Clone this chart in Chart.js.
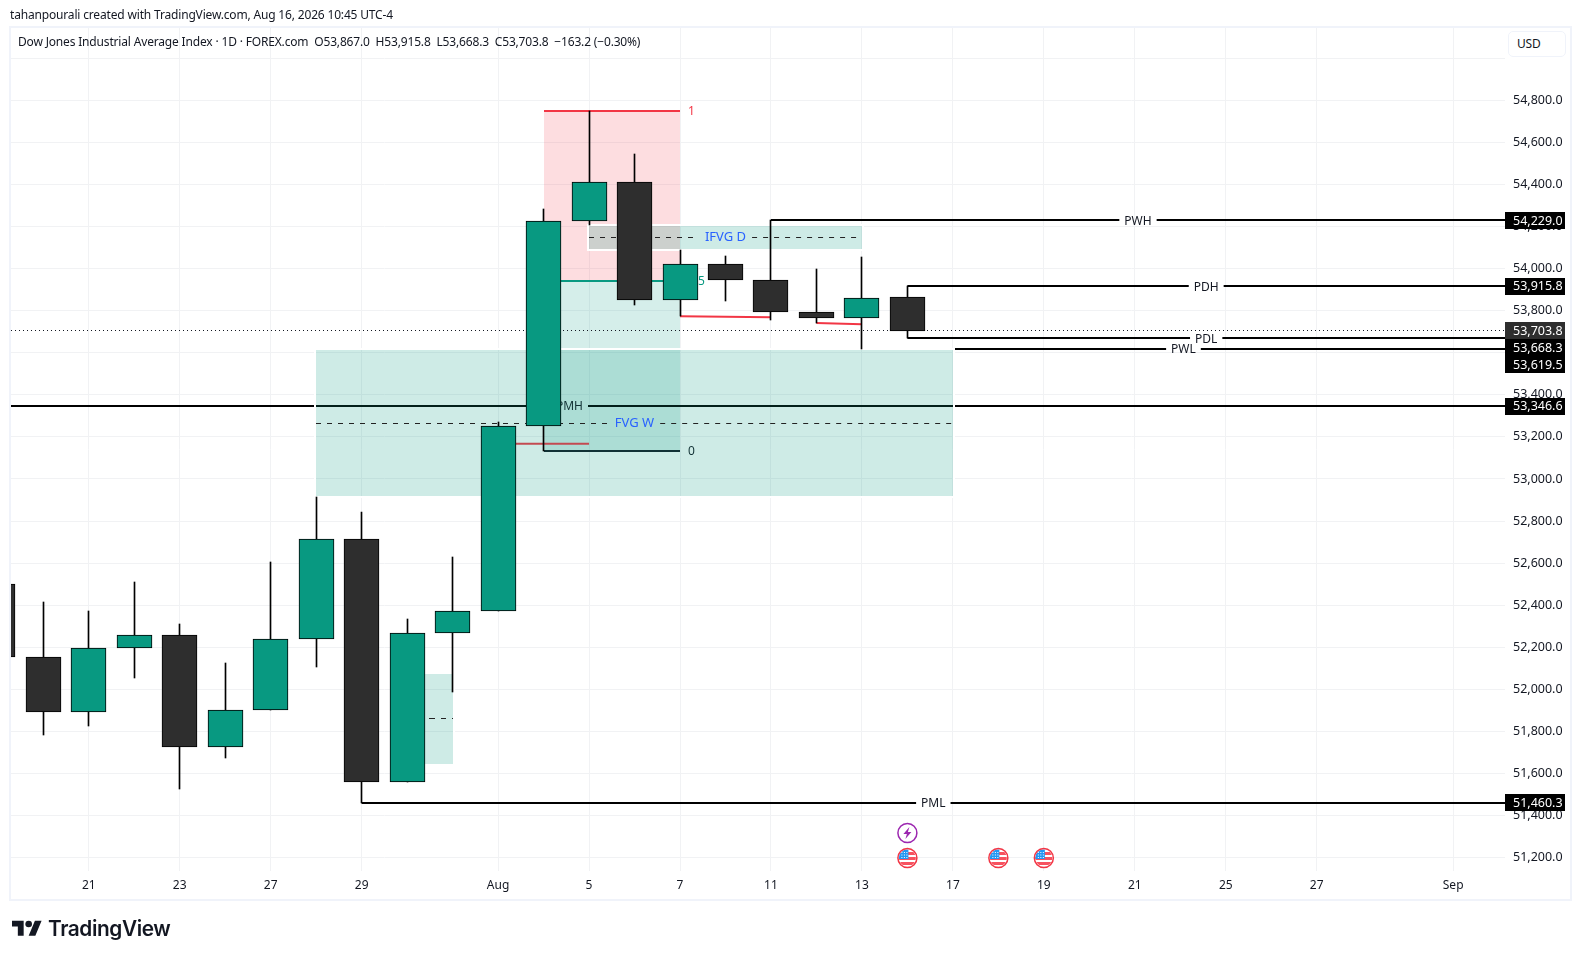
<!DOCTYPE html>
<html>
<head>
<meta charset="utf-8">
<title>Dow Jones Industrial Average Index</title>
<script src="https://cdn.jsdelivr.net/npm/chart.js@4"></script>
<style>
  html, body { margin: 0; background: #fff; width: 1580px; height: 959px; overflow: hidden; }
  body { font-family: 'Noto Sans', sans-serif; color: #131722; }
  #frame { position: absolute; left: 9px; top: 26px; width: 1559px; height: 871px; border: 2px solid #f0f3fa; }
  #chart { position: absolute; left: 0; top: 0; }
  .txt { position: absolute; white-space: pre; font-size: 12px; line-height: 16px; letter-spacing: -0.17px; }
  #credit { left: 10px; top: 7px; }
  #legend { left: 18px; top: 34px; }
  #usd { left: 1508px; top: 31px; width: 58px; height: 26px; box-sizing: border-box; padding-left: 8px; border: 1px solid #f0f3fa; border-radius: 5px; background: #fff; line-height: 24px; }
  #logo { position: absolute; left: 12px; top: 917px; }
  #logoName { position: absolute; left: 48px; top: 914px; font: 600 20.8px/30px Inter, sans-serif; color: #131722; letter-spacing: -0.4px; }
</style>
</head>
<body>
<div id="frame"></div>
<canvas id="chart" width="1580" height="959"></canvas>
<div class="txt" id="credit">tahanpourali created with TradingView.com, Aug 16, 2026 10:45 UTC-4</div>
<div class="txt" id="legend">Dow Jones Industrial Average Index · 1D · FOREX.com  O53,867.0  H53,915.8  L53,668.3  C53,703.8  −163.2 (−0.30%)</div>
<div class="txt" id="usd">USD</div>
<svg id="logo" width="30" height="24" viewBox="0 0 36 28"><path fill="#131722" d="M14 22H7V11H0V4h14v18zM28 22h-8l7.5-18h8L28 22z"/><circle fill="#131722" cx="20" cy="8" r="4"/></svg>
<div id="logoName">TradingView</div>
<script>
// candles, x is the bar number on the time axis
const bars   = [-1, 0, 1, 2, 3, 4, 5, 6, 7, 8, 9, 10, 11, 12, 13, 14, 15, 16, 17, 18, 19];
const opens  = [52499, 52155, 51891, 52197, 52259, 51727, 51903, 52240, 52716, 51560, 52269, 52370, 53250, 54228, 54413, 53850, 54023, 53948, 53795, 53765, 53867];
const highs  = [52499, 52413, 52370, 52508, 52308, 52123, 52603, 52912, 52841, 52332, 52630, 53270, 54282, 54748, 54543, 54087, 54058, 54229, 53996, 54053, 53915.8];
const lows   = [52153, 51782, 51825, 52053, 51528, 51673, 51903, 52105, 51460.3, 51560, 51987, 52370, 53131, 54205, 53827, 53773, 53846, 53754, 53741, 53619.5, 53668.3];
const closes = [52153, 51891, 52197, 52259, 51727, 51903, 52240, 52716, 51560, 52269, 52373, 53250, 54228, 54413, 53850, 54023, 53946, 53795, 53765, 53862, 53703.8];

const timeTicks  = [1, 3, 5, 7, 10, 12, 14, 16, 18, 20, 22, 24, 26, 28, 31];
const timeLabels = ['21', '23', '27', '29', 'Aug', '5', '7', '11', '13', '17', '19', '21', '25', '27', 'Sep'];
const priceTicks = [55000, 54800, 54600, 54400, 54200, 54000, 53800, 53600, 53400, 53200, 53000, 52800, 52600, 52400, 52200, 52000, 51800, 51600, 51400, 51200];

// labelled horizontal levels
const levelNames  = ['PWH', 'PDH', 'PDL', 'PWL', 'PMH', 'PML'];
const levelPrices = [54229, 53915.8, 53668.3, 53619.5, 53346.6, 51460.3];
const levelStarts = [16, 19, 19, 18, -9, 7];

const lastPrice = 53703.8;

// fib tool
const fibFrom = 11, fibTo = 14;
const fibNames  = ['1', '0.5', '0'];
const fibPrices = [54748, 53939, 53131];

// fair value gaps
const gapNames  = ['FVG W', 'IFVG D', ''];
const gapFrom   = [6, 12, 8];
const gapTo     = [20, 18, 9];
const gapTops   = [53615, 54201, 52075];
const gapBottoms = [52919, 54091, 51647];
const gapMiddles = [53263, 54147, 51861];

// red sweep lines
const sweepFrom   = [10, 14, 17];
const sweepTo     = [12, 16, 18];
const sweepStart  = [53167, 53773, 53741];
const sweepEnd    = [53167, 53769, 53735];

const flagBars = [19, 21, 22];
const boltBars = [19];

const GREEN = '#089981', DARK = '#2e2e2e', RED = '#f23645', BLUE = '#2962ff', INK = '#131722';
const GRID = '#f1f2f4';
const FONT = "'Noto Sans', sans-serif";

function hline(ctx, x0, x1, y, color, width, dash) {
  // keep horizontal lines on whole pixels
  const py = width % 2 ? Math.floor(y) + 0.5 : Math.round(y);
  ctx.save();
  ctx.beginPath();
  ctx.setLineDash(dash || []);
  ctx.strokeStyle = color;
  ctx.lineWidth = width;
  ctx.moveTo(x0, py);
  ctx.lineTo(x1, py);
  ctx.stroke();
  ctx.restore();
}

function text(ctx, str, x, y, color, size, align) {
  ctx.fillStyle = color;
  ctx.font = size + 'px ' + FONT;
  ctx.textAlign = align || 'center';
  ctx.textBaseline = 'middle';
  ctx.fillText(str, x, y);
}

const drawings = {
  id: 'drawings',
  // candles come out crisp only on whole pixels
  afterDatasetsUpdate(chart) {
    chart.data.datasets.forEach((d, i) => {
      chart.getDatasetMeta(i).data.forEach(el => {
        el.x = Math.floor(el.x) + 0.5;
        el.y = Math.round(el.y);
        el.base = Math.round(el.base);
      });
    });
  },
  beforeDatasetsDraw(chart) {
    const { ctx, chartArea: area, scales: { x, y } } = chart;
    ctx.save();
    ctx.beginPath();
    ctx.rect(area.left, area.top, area.right - area.left, area.bottom - area.top);
    ctx.clip();

    // fib fills and levels
    const fx0 = Math.round(x.getPixelForValue(fibFrom)), fx1 = Math.round(x.getPixelForValue(fibTo));
    const fy = fibPrices.map(p => Math.round(y.getPixelForValue(p)));
    ctx.fillStyle = 'rgba(242,54,69,0.17)';
    ctx.fillRect(fx0, fy[0], fx1 - fx0, fy[1] - fy[0]);
    ctx.fillStyle = 'rgba(8,153,129,0.17)';
    ctx.fillRect(fx0, fy[1], fx1 - fx0, fy[2] - fy[1]);
    const fibColors = [RED, GREEN, INK];
    fibNames.forEach((n, i) => {
      hline(ctx, fx0, fx1, fy[i], fibColors[i], 2);
      text(ctx, n, fx1 + 8, fy[i] + 1, fibColors[i], 12, 'left');
    });

    // last price
    hline(ctx, area.left, area.right, y.getPixelForValue(lastPrice), '#131722', 1, [1, 3]);

    // sweeps
    sweepFrom.forEach((b, i) => {
      ctx.beginPath();
      ctx.strokeStyle = RED;
      ctx.lineWidth = 2;
      ctx.moveTo(x.getPixelForValue(b), y.getPixelForValue(sweepStart[i]));
      ctx.lineTo(x.getPixelForValue(sweepTo[i]), y.getPixelForValue(sweepEnd[i]));
      ctx.stroke();
    });

    // labelled levels, the label sits in a gap of the line
    levelNames.forEach((n, i) => {
      const x0 = x.getPixelForValue(levelStarts[i]);
      const py = y.getPixelForValue(levelPrices[i]);
      const mid = (x0 + area.right) / 2;
      ctx.font = '12px ' + FONT;
      const half = ctx.measureText(n).width / 2 + 5;
      hline(ctx, x0, mid - half, py, '#000', 2);
      hline(ctx, mid + half, area.right, py, '#000', 2);
      text(ctx, n, mid, py + 1, INK, 12);
    });

    // gaps go over the lines, with a white outline
    gapNames.forEach((n, i) => {
      const x0 = Math.round(x.getPixelForValue(gapFrom[i])), x1 = Math.round(x.getPixelForValue(gapTo[i]));
      const top = Math.round(y.getPixelForValue(gapTops[i])), bot = Math.round(y.getPixelForValue(gapBottoms[i]));
      const my = y.getPixelForValue(gapMiddles[i]);
      ctx.strokeStyle = '#fff';
      ctx.lineWidth = 2;
      ctx.strokeRect(x0 - 1, top - 1, x1 - x0 + 2, bot - top + 2);
      ctx.fillStyle = 'rgba(8,153,129,0.2)';
      ctx.fillRect(x0, top, x1 - x0, bot - top);
      const mid = (x0 + x1) / 2;
      ctx.font = '13px ' + FONT;
      const half = n ? ctx.measureText(n).width / 2 + 6 : 0;
      hline(ctx, x0, mid - half, my, '#222', 1, [5, 6]);
      hline(ctx, mid + half, x1, my, '#222', 1, [5, 6]);
      if (n) text(ctx, n, mid, my, BLUE, 13);
    });
    ctx.restore();
  },
  afterDraw(chart) {
    const { ctx, chartArea: area, scales: { x, y } } = chart;

    // event icons
    boltBars.forEach(b => {
      const cx = x.getPixelForValue(b), cy = 833;
      ctx.beginPath();
      ctx.arc(cx, cy, 9.5, 0, Math.PI * 2);
      ctx.fillStyle = '#fff';
      ctx.fill();
      ctx.strokeStyle = '#9c27b0';
      ctx.lineWidth = 1.5;
      ctx.stroke();
      ctx.beginPath();
      ctx.fillStyle = '#9c27b0';
      [[2, -6], [-4, 1], [-0.5, 1], [-2, 6], [4, -1], [0.5, -1]].forEach((p, i) => {
        if (i) ctx.lineTo(cx + p[0], cy + p[1]); else ctx.moveTo(cx + p[0], cy + p[1]);
      });
      ctx.closePath();
      ctx.fill();
    });
    flagBars.forEach(b => {
      const cx = x.getPixelForValue(b), cy = 858;
      ctx.save();
      ctx.beginPath();
      ctx.arc(cx, cy, 8.5, 0, Math.PI * 2);
      ctx.fillStyle = '#fff';
      ctx.fill();
      ctx.clip();
      ctx.fillStyle = '#f7525f';
      ctx.fillRect(cx - 9, cy - 6, 18, 3);
      ctx.fillRect(cx - 9, cy - 1, 18, 3);
      ctx.fillRect(cx - 9, cy + 4, 18, 3);
      ctx.fillStyle = '#2196f3';
      ctx.fillRect(cx - 9, cy - 9, 10, 10);
      ctx.fillStyle = '#fff';
      for (let r = 0; r < 3; r++) for (let c = 0; c < 3; c++) ctx.fillRect(cx - 6 + c * 2.5, cy - 6 + r * 2.5, 1, 1);
      ctx.restore();
      ctx.beginPath();
      ctx.arc(cx, cy, 9.5, 0, Math.PI * 2);
      ctx.strokeStyle = RED;
      ctx.lineWidth = 1.5;
      ctx.stroke();
    });

    // price tags on the axis, pushed down when they would overlap
    const tags = levelPrices.concat(lastPrice).sort((a, b) => b - a);
    let prev = -100;
    tags.forEach(p => {
      const py = Math.max(y.getPixelForValue(p), prev + 17);
      prev = py;
      ctx.fillStyle = p === lastPrice ? DARK : '#000';
      ctx.fillRect(area.right, Math.round(py - 8.5), 60, 17);
      text(ctx, p.toLocaleString('en-US', { minimumFractionDigits: 1, maximumFractionDigits: 1 }), area.right + 8, py + 0.5, '#fff', 12.5, 'left');
    });
  }
};

new Chart(document.getElementById('chart'), {
  type: 'bar',
  data: {
    datasets: [
      {
        label: 'Body',
        data: bars.map((b, i) => ({ x: b, y: [opens[i], closes[i]] })),
        backgroundColor: bars.map((b, i) => closes[i] >= opens[i] ? GREEN : DARK),
        borderColor: '#000',
        borderWidth: 1,
        borderSkipped: false,
        barThickness: 35,
        grouped: false
      },
      {
        label: 'Wick',
        data: bars.map((b, i) => ({ x: b, y: [lows[i], highs[i]] })),
        backgroundColor: '#000',
        barThickness: 1,
        grouped: false
      }
    ]
  },
  options: {
    responsive: false,
    animation: false,
    layout: { padding: { left: 11, top: 28, right: 0, bottom: 0 } },
    plugins: { legend: { display: false }, tooltip: { enabled: false } },
    scales: {
      x: {
        type: 'linear',
        offset: false,
        min: -0.71,
        max: 32.14,
        afterBuildTicks: s => { s.ticks = timeTicks.map(v => ({ value: v })); },
        afterFit: s => { s.height = 88; },
        grid: { color: GRID, drawTicks: false, offset: false },
        border: { display: false },
        ticks: {
          autoSkip: false,
          maxRotation: 0,
          padding: 7,
          color: '#131722',
          font: { family: FONT, size: 12 },
          callback: v => timeLabels[timeTicks.indexOf(v)]
        }
      },
      y: {
        position: 'right',
        min: 51136,
        max: 55144,
        afterBuildTicks: s => { s.ticks = priceTicks.map(v => ({ value: v })); },
        afterFit: s => { s.width = 75; },
        grid: { color: GRID, drawTicks: false },
        border: { display: false },
        ticks: {
          autoSkip: false,
          padding: 8,
          color: '#131722',
          font: { family: FONT, size: 12.5 },
          callback: v => v === 55000 ? '' : v.toLocaleString('en-US', { minimumFractionDigits: 1 })
        }
      }
    }
  },
  plugins: [drawings]
});
</script>
</body>
</html>
